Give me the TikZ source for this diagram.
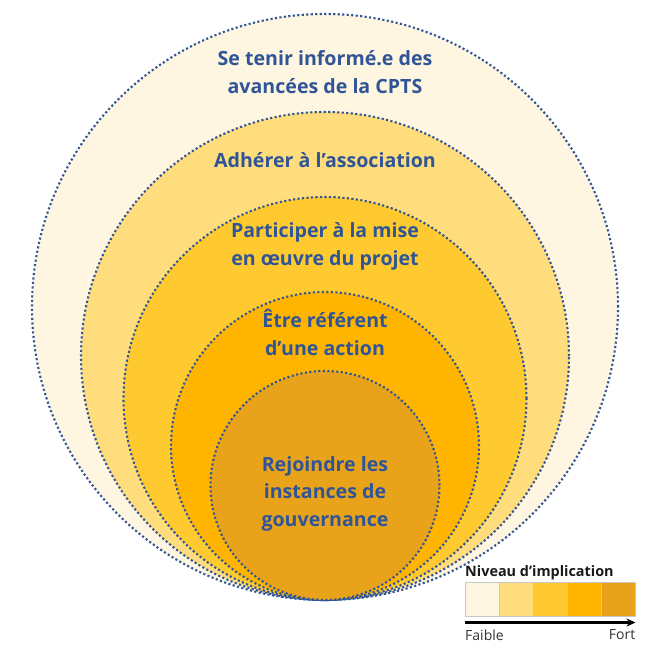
\documentclass[tikz,border=0pt]{standalone}
\usepackage{fontspec}
\setmainfont{Open Sans}
\usepackage{tikz}
\usetikzlibrary{arrows.meta, positioning}
\definecolor{levelone}{HTML}{FFF6E1}
\definecolor{leveltwo}{HTML}{FFDC7C}
\definecolor{levelthree}{HTML}{FFCA30}
\definecolor{levelfour}{HTML}{FFB500}
\definecolor{levelfive}{HTML}{E9A31A}
\definecolor{cptsblue}{HTML}{2F5597}

\begin{document}
\begin{tikzpicture}[
    x=1pt, y=-1pt,
    ring/.style={circle, draw=cptsblue, line width=2.1pt, dash pattern=on 2.1pt off 2.4pt, inner sep=0pt, minimum size=#1},
    ringtext/.style={font=\bfseries\fontsize{19.6}{27.5}\selectfont, text=cptsblue, align=center},
    key/.style={draw=black!22, line width=0.5pt, minimum width=33.6pt, minimum height=34pt, inner sep=0pt},
    keytext/.style={font=\fontsize{14}{16}\selectfont, text=black!80, inner sep=0pt}
]
\useasboundingbox (0,0) rectangle (650,650);

% nested levels, all touching at the bottom
\node[ring=586pt, fill=levelone] (info) at (325,307) {};
\node[ring=488pt, fill=leveltwo] (adh) at (325,356) {};
\node[ring=403pt, fill=levelthree] (part) at (325,398.5) {};
\node[ring=308pt, fill=levelfour] (ref) at (325,446) {};
\node[ring=229pt, fill=levelfive] (gouv) at (325,485.5) {};

\node[ringtext] (infotxt) at (325,72) {Se tenir informé.e des\\avancées de la CPTS};
\node[ringtext] (adhtxt) at (325,160) {Adhérer à l’association};
\node[ringtext] (parttxt) at (325,246.5) {Participer à la mise\\en œuvre du projet};
\node[ringtext] (reftxt) at (325,332.5) {Être référent\\d’une action};
\node[ringtext] (gouvtxt) at (325,493.5) {Rejoindre les\\instances de\\gouvernance};

% legend
\node[key, fill=levelone, anchor=north west] (k1) at (465,582) {};
\node[key, fill=leveltwo, right=0pt of k1] (k2) {};
\node[key, fill=levelthree, right=0pt of k2] (k3) {};
\node[key, fill=levelfour, right=0pt of k3] (k4) {};
\node[key, fill=levelfive, right=0pt of k4] (k5) {};

\node[keytext, font=\bfseries\fontsize{14.4}{16}\selectfont, text=black!90, anchor=south west] (keytitle) at ([yshift=2pt]k1.north west) {Niveau d’implication};

\coordinate (lo) at ([yshift=-6pt]k1.south west);
\coordinate (hi) at ([yshift=-6pt]k5.south east);
\draw[-{Stealth[length=9pt, width=8pt]}, line width=2.2pt] (lo) -- (hi);
\node[keytext, anchor=north west] (faible) at ([yshift=-7pt]lo) {Faible};
\node[keytext, anchor=north east] (fort) at ([yshift=-7pt]hi) {Fort};

\end{tikzpicture}
\end{document}
